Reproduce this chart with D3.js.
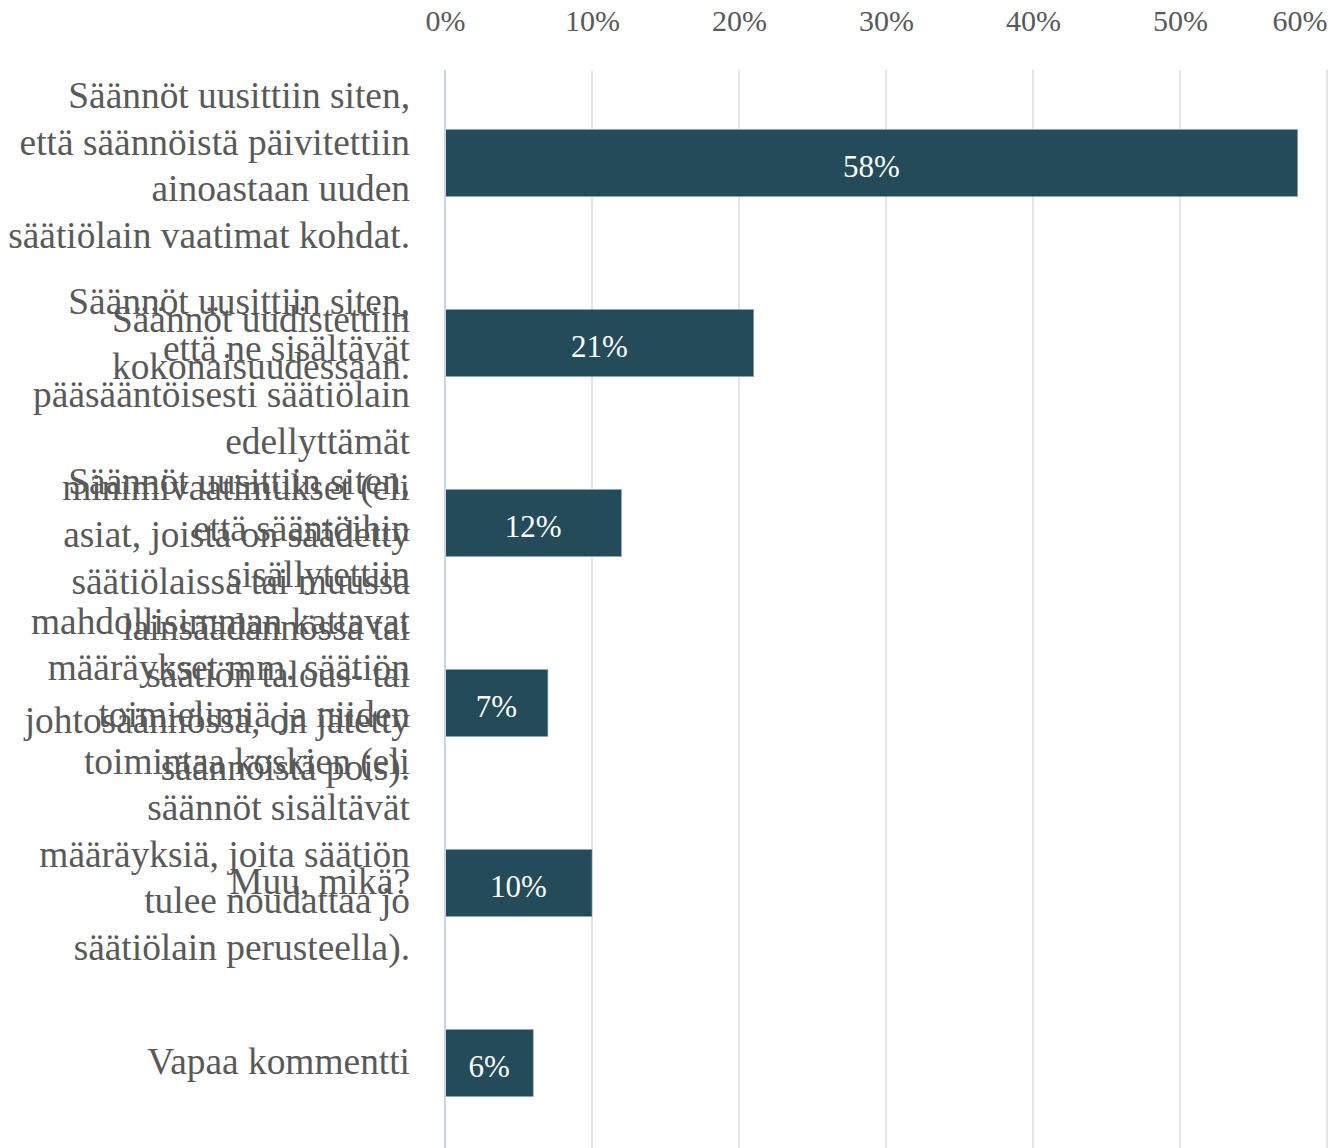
<!DOCTYPE html>
<html>
<head>
<meta charset="utf-8">
<script src="https://cdn.jsdelivr.net/npm/d3@7"></script>
<style>
  html, body { margin: 0; padding: 0; background: #ffffff; }
  svg { display: block; }
</style>
</head>
<body>
<svg id="chart" width="1340" height="1148"></svg>
<script>
// ---- Data ----
const categories = [
  "Säännöt uusittiin siten,\nettä säännöistä päivitettiin\nainoastaan uuden\nsäätiölain vaatimat kohdat.",
  "Säännöt uudistettiin\nkokonaisuudessaan.",
  "Säännöt uusittiin siten,\nettä ne sisältävät\npääsääntöisesti säätiölain\nedellyttämät\nminimivaatimukset (eli\nasiat, joista on säädetty\nsäätiölaissa tai muussa\nlainsäädännössä tai\nsäätiön talous- tai\njohtosäännössä, on jätetty\nsäännöistä pois).",
  "Säännöt uusittiin siten,\nettä sääntöihin\nsisällytettiin\nmahdollisimman kattavat\nmääräykset mm. säätiön\ntoimielimiä ja niiden\ntoimintaa koskien (eli\nsäännöt sisältävät\nmääräyksiä, joita säätiön\ntulee noudattaa jo\nsäätiölain perusteella).",
  "Muu, mikä?",
  "Vapaa kommentti"
];
const values = [58, 21, 12, 7, 10, 6];
const tickValues = [0, 10, 20, 30, 40, 50, 60];
const tickLabels = ["0%", "10%", "20%", "30%", "40%", "50%", "60%"];

// ---- Layout ----
const W = 1340, H = 1148;
const plotLeft = 445, plotRight = 1327;
const plotTop = 73, plotBottom = 1153;
const FONT = "'Liberation Serif', 'Times New Roman', serif";
const textColor = "#595959";
const barColor = "#234b5a";

const svg = d3.select("#chart");

const x = d3.scaleLinear().domain([0, 60]).range([plotLeft, plotRight]);
const y = d3.scaleBand().domain(d3.range(categories.length))
  .range([plotTop, plotBottom]).paddingInner(0.628).paddingOuter(0.314);

// gridlines
svg.append("g").selectAll("line")
  .data(tickValues.filter(d => d !== 0))
  .join("line")
  .attr("x1", d => x(d)).attr("x2", d => x(d))
  .attr("y1", 70).attr("y2", H)
  .attr("stroke", "#dcdcdc").attr("stroke-width", 1.5);

// top axis labels
const axis = d3.axisTop(x).tickValues(tickValues)
  .tickFormat((d, i) => tickLabels[i]).tickSize(0).tickPadding(0);
const ag = svg.append("g").attr("transform", "translate(0,31)").call(axis);
ag.select(".domain").remove();
ag.selectAll("text")
  .attr("font-family", FONT).attr("font-size", 30).attr("fill", textColor)
  .attr("dy", 0)
  .each(function(d) {
    const t = d3.select(this);
    const w = this.getComputedTextLength();
    if (x(d) + w / 2 > W - 12) {
      t.attr("text-anchor", "end").attr("x", 0);
    }
  });

// bars
svg.append("g").selectAll("rect")
  .data(values)
  .join("rect")
  .attr("x", x(0))
  .attr("y", (d, i) => y(i))
  .attr("width", d => x(d) - x(0))
  .attr("height", y.bandwidth())
  .attr("fill", barColor)
  .attr("stroke", "#8fa3b0").attr("stroke-width", 0.6);

// zero axis line
svg.append("line")
  .attr("x1", x(0)).attr("x2", x(0))
  .attr("y1", 70).attr("y2", H)
  .attr("stroke", "#c8d2ea").attr("stroke-width", 2);

// value labels
svg.append("g").selectAll("text")
  .data(values)
  .join("text")
  .attr("x", d => (x(0) + x(d)) / 2)
  .attr("y", (d, i) => y(i) + y.bandwidth() / 2 + 14)
  .attr("text-anchor", "middle")
  .attr("font-family", FONT).attr("font-size", 31)
  .attr("fill", "#ffffff")
  .text(d => d + "%");

// category labels (multi-line, right aligned)
const lh = 46.6;
const lg = svg.append("g");
categories.forEach((c, i) => {
  const lines = c.split("\n");
  const n = lines.length;
  const center = y(i) + y.bandwidth() / 2 + (n - 1) * 1.3;
  const first = center - (n - 1) * lh / 2;
  const t = lg.append("text")
    .attr("text-anchor", "end")
    .attr("font-family", FONT).attr("font-size", 37.4)
    .attr("fill", textColor);
  lines.forEach((ln, k) => {
    t.append("tspan").attr("x", 410).attr("y", first + k * lh + 11).text(ln);
  });
});
</script>
</body>
</html>
